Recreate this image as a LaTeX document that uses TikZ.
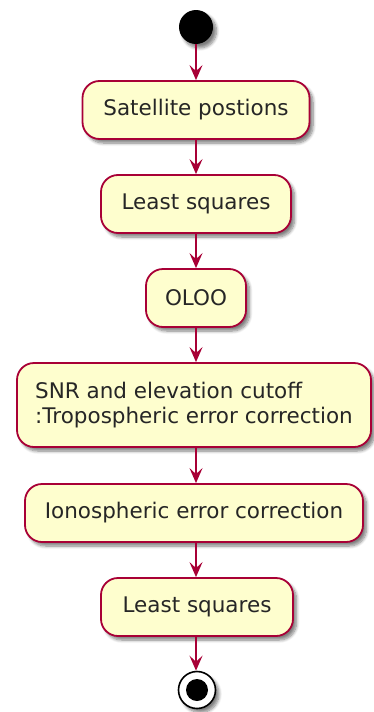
\documentclass[tikz,border=0pt]{standalone}
\usepackage{fontspec}
\setmainfont{DejaVu Sans}
\usetikzlibrary{arrows.meta,shadows.blur}
\definecolor{actfill}{HTML}{FEFECE}
\definecolor{actline}{HTML}{A80036}
\tikzset{
  x=1pt, y=-1pt,
  softshadow/.style={blur shadow={shadow xshift=3.5pt, shadow yshift=-4pt,
    shadow opacity=50, shadow blur steps=7, shadow blur radius=3pt}},
  activity/.style={draw=actline, fill=actfill, line width=1.8pt,
    rounded corners=17pt, minimum height=58pt, inner sep=0pt,
    font=\fontsize{21.5}{25}\selectfont, text=black!85, softshadow},
  flow/.style={draw=actline, line width=1.8pt,
    -{Stealth[length=15pt, width=13pt, inset=6pt]}},
}
\begin{document}
\begin{tikzpicture}
\useasboundingbox (0,0) rectangle (373,712);

% start node
\node[circle, fill=black, minimum size=34pt, inner sep=0pt, softshadow] (start) at (196,27) {};

% activities
\node[activity, minimum width=227pt] (sat) at (196,110) {Satellite postions};
\node[activity, minimum width=190pt] (ls1) at (196,204) {Least squares};
\node[activity, minimum width=100pt] (oloo) at (196,298) {OLOO};
\node[activity, minimum width=354pt, minimum height=84pt, align=left] (snr) at (194,405)
  {SNR and elevation cutoff\\:Tropospheric error correction};
\node[activity, minimum width=338pt] (iono) at (194,513) {Ionospheric error correction};
\node[activity, minimum width=192pt] (ls2) at (197,607) {Least squares};

% end node
\node[circle, draw=black, fill=white, line width=1.6pt, minimum size=37pt, inner sep=0pt,
  softshadow] (stop) at (197,690) {};
\node[circle, fill=black, minimum size=22pt, inner sep=0pt] (stopdot) at (stop.center) {};

% control flow along the common axis
\coordinate (axis) at (196,0);
\draw[flow] (start.south) -- (sat.north);
\draw[flow] (sat.south) -- (ls1.north);
\draw[flow] (ls1.south) -- (oloo.north);
\draw[flow] (oloo.south) -- (axis |- snr.north);
\draw[flow] (axis |- snr.south) -- (axis |- iono.north);
\draw[flow] (axis |- iono.south) -- (axis |- ls2.north);
\draw[flow] (axis |- ls2.south) -- (axis |- stop.north);
\end{tikzpicture}
\end{document}
